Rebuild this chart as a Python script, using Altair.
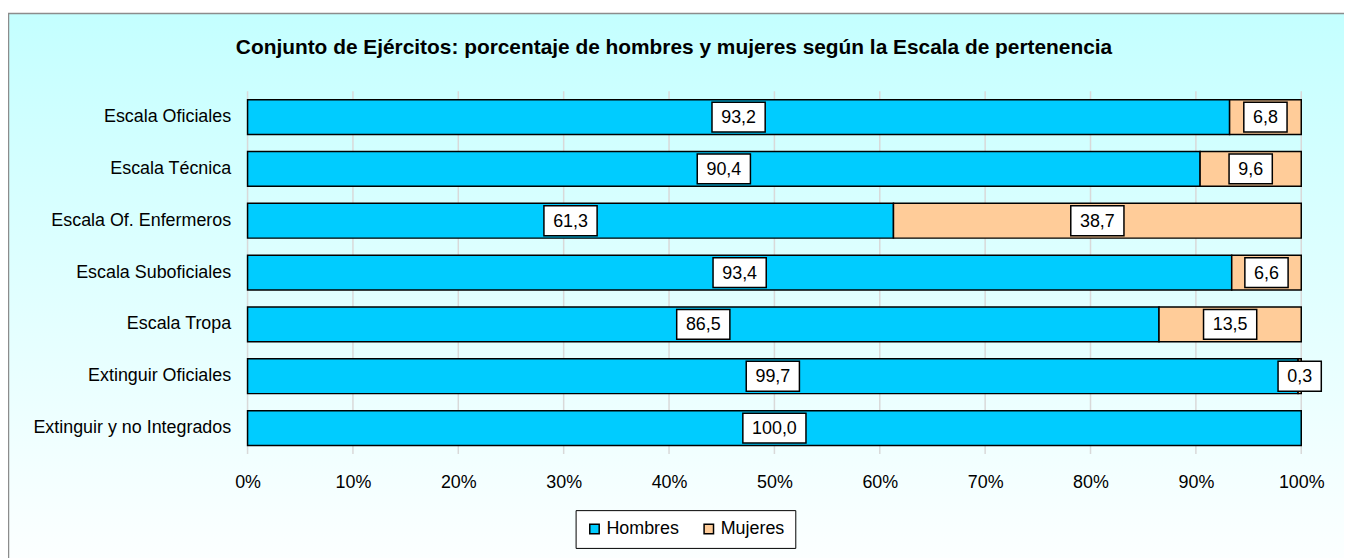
import altair as alt
import pandas as pd

titulo = "Conjunto de Ejércitos: porcentaje de hombres y mujeres según la Escala de pertenencia"
categorias = [
    "Escala Oficiales",
    "Escala Técnica",
    "Escala Of. Enfermeros",
    "Escala Suboficiales",
    "Escala Tropa",
    "Extinguir Oficiales",
    "Extinguir y no Integrados",
]
hombres = [93.2, 90.4, 61.3, 93.4, 86.5, 99.7, 100.0]
mujeres = [6.8, 9.6, 38.7, 6.6, 13.5, 0.3, 0.0]
series = ["Hombres", "Mujeres"]
colores = ["#00CCFF", "#FFCC99"]
ticks_x = [0, 10, 20, 30, 40, 50, 60, 70, 80, 90, 100]

W = 1060
H = 365
FONT = "Liberation Sans"

rows = []
for c, h, m in zip(categorias, hombres, mujeres):
    rows.append({"categoria": c, "serie": "Hombres", "valor": h, "inicio": 0.0, "fin": h})
    rows.append({"categoria": c, "serie": "Mujeres", "valor": m, "inicio": h, "fin": h + m})
df = pd.DataFrame(rows)

xscale = alt.Scale(domain=[0, 100], nice=False)
ysort = categorias

xaxis = alt.Axis(values=ticks_x, labelExpr="datum.value + '%'", title="",
                 grid=False, ticks=False, domain=False,
                 labelFontSize=18, labelColor="black", labelFont=FONT,
                 labelPadding=20, labelFlush=False, labelOverlap=False, zindex=1)
yaxis = alt.Axis(title="", labelFontSize=18, labelColor="black", labelFont=FONT,
                 ticks=False, domain=False, labelPadding=17,
                 labelLimit=400, grid=False, zindex=1)

bg = alt.Chart(pd.DataFrame({"k": [0]})).mark_rect(
    fill=alt.Gradient(
        gradient="linear",
        stops=[alt.GradientStop(color="#C4FFFF", offset=0),
               alt.GradientStop(color="#FFFFFF", offset=1)],
        x1=0, x2=0, y1=0, y2=1,
    ),
    stroke="#8C8C8C",
    strokeWidth=1.5,
).encode(
    x=alt.value(-240.5), x2=alt.value(1150),
    y=alt.value(-78), y2=alt.value(500),
)

grid = alt.Chart(pd.DataFrame({"t": ticks_x})).mark_rule(
    color="#D9D9D9", strokeWidth=1.5
).encode(
    x=alt.X("t:Q", scale=xscale, axis=xaxis),
    y=alt.value(0),
    y2=alt.value(H),
)

base = alt.Chart(df).transform_filter("datum.valor > 0")

bars = base.mark_bar(size=35, stroke="black", strokeWidth=1.5).encode(
    y=alt.Y("categoria:N", sort=ysort, axis=yaxis),
    x=alt.X("inicio:Q", scale=xscale, axis=xaxis),
    x2="fin:Q",
    color=alt.Color("serie:N", scale=alt.Scale(domain=series, range=colores),
                    legend=alt.Legend(title=None, orient="none", legendX=330, legendY=421.5,
                                      direction="horizontal", symbolType="square",
                                      symbolSize=90, symbolStrokeColor="black",
                                      symbolStrokeWidth=1.5, labelFontSize=18,
                                      labelColor="black", labelFont=FONT,
                                      strokeColor="black", fillColor="white",
                                      padding=10, columnPadding=20, labelOffset=3)),
)

lab = base.transform_calculate(
    etiqueta="replace(format(datum.valor, '.1f'), '.', ',')",
    centro="(datum.inicio + datum.fin) / 2",
).transform_calculate(
    semi="((length(datum.etiqueta) - 1) * 10 + 5 + 18.5) / 2 / 10.6",
).transform_calculate(
    x0="datum.centro - datum.semi",
    x1="datum.centro + datum.semi",
)

boxes = lab.mark_bar(size=30, fill="white", stroke="black", strokeWidth=1.5).encode(
    y=alt.Y("categoria:N", sort=ysort, axis=yaxis),
    x=alt.X("x0:Q", scale=xscale, axis=xaxis),
    x2="x1:Q",
)

texts = lab.mark_text(fontSize=18, color="black", font=FONT, align="center",
                      baseline="middle", dy=1).encode(
    y=alt.Y("categoria:N", sort=ysort, axis=yaxis),
    x=alt.X("centro:Q", scale=xscale, axis=xaxis),
    text="etiqueta:N",
)

chart = alt.layer(bg, grid, bars, boxes, texts).properties(
    width=W,
    height=H,
    autosize=alt.AutoSizeParams(type="none"),
    padding={"left": 241, "top": 82, "right": 43, "bottom": 103},
    title=alt.TitleParams(text=titulo, fontSize=21, fontWeight="bold", font=FONT,
                          color="black", anchor="middle", frame="group", dx=-101,
                          offset=-45, zindex=2),
).configure(font=FONT).configure_view(stroke=None)

chart.save("out.html", embed_options={"renderer": "svg", "actions": False})
